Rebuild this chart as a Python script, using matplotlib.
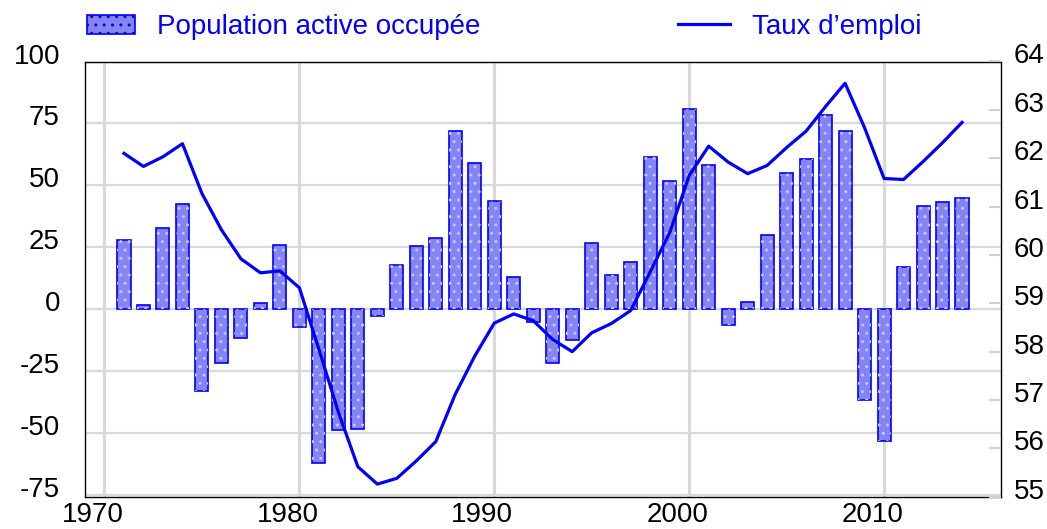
import matplotlib
matplotlib.use("Agg")
import matplotlib.pyplot as plt
from matplotlib.transforms import ScaledTranslation
from matplotlib.lines import Line2D
from matplotlib.patches import Patch

years = list(range(1971, 2015))
population_active_occupee = [
    28, 2, 33, 42.5, -33, -21.6, -11.5, 2.5, 26, -7,
    -62, -48.5, -48, -2.5, 18, 25.5, 29, 72, 59, 43.7,
    13, -5, -21.6, -12.5, 27, 14, 19, 61.4, 51.8, 80.7,
    58.1, -6.4, 2.9, 30.1, 55.2, 60.5, 78.3, 72.1, -36.6, -53,
    17.3, 41.7, 43.2, 44.8,
]
taux_emploi = [
    62.10, 61.83, 62.03, 62.30, 61.27, 60.52, 59.92, 59.63, 59.67, 59.32,
    58.05, 56.75, 55.62, 55.26, 55.38, 55.74, 56.14, 57.12, 57.91, 58.59,
    58.78, 58.64, 58.25, 58.00, 58.39, 58.58, 58.85, 59.65, 60.46, 61.64,
    62.25, 61.92, 61.68, 61.85, 62.22, 62.56, 63.07, 63.55, 62.63, 61.58,
    61.56, 61.93, 62.32, 62.74,
]
left_ticks = [-75, -50, -25, 0, 25, 50, 75, 100]
right_ticks = [55, 56, 57, 58, 59, 60, 61, 62, 63, 64]
x_ticks = [1970, 1980, 1990, 2000, 2010]
label_bars = "Population active occupée"
label_line = "Taux d’emploi"

plt.rcParams['font.family'] = ['Liberation Sans', 'DejaVu Sans']
plt.rcParams['axes.unicode_minus'] = False
FS = 20
BLUE = '#0000ff'
GRID = '#d9d9d9'
FILL = '#8585f2'

W, H = 1047, 529
fig = plt.figure(figsize=(W / 100, H / 100), dpi=100)
ax = fig.add_axes([85 / W, 1 - 496.7 / H, (1001 - 85) / W, (496.7 - 61.5) / H])

ax.bar(years, population_active_occupee, width=0.67, color=FILL,
       edgecolor=BLUE, linewidth=1.2, zorder=2)
ax.bar(years, population_active_occupee, width=0.67, color='none',
       edgecolor='#c4c4ff', hatch='..', linewidth=0, zorder=2.5)

ax.set_xlim(1969.0, 2016.0)
ax.set_ylim(-75.5, 100)
ax.set_xticks(x_ticks)
ax.set_yticks(left_ticks)
ax.set_axisbelow(True)
ax.xaxis.grid(True, color=GRID, linewidth=2.2)
ax.yaxis.grid(True, color=GRID, linewidth=1.6)
ax.tick_params(axis='both', length=0, labelsize=FS, colors='black')
ax.tick_params(axis='y', pad=18)
ax.tick_params(axis='x', pad=4)
for sp in ax.spines.values():
    sp.set_color('black')
    sp.set_linewidth(1.0)

ax2 = ax.twinx()
ax2.plot(years, taux_emploi, color=BLUE, linewidth=2.3, zorder=5)
ax2.set_ylim(55, 64)
ax2.set_yticks(right_ticks)
ax2.tick_params(axis='y', direction='in', length=8.5, width=1.5, color='#d0d0d0',
                labelsize=FS, pad=9)
for sp in ax2.spines.values():
    sp.set_visible(False)

up = ScaledTranslation(0, 8 / 100, fig.dpi_scale_trans)
left = ScaledTranslation(-12 / 100, 0, fig.dpi_scale_trans)
for t in ax.yaxis.get_major_ticks():
    t.label1.set_transform(t.label1.get_transform() + up)
for t in ax2.yaxis.get_major_ticks():
    t.label2.set_transform(t.label2.get_transform() + up)
for t in ax.xaxis.get_major_ticks():
    t.label1.set_transform(t.label1.get_transform() + left)

h1 = Patch(facecolor=FILL, edgecolor=BLUE, hatch='..', linewidth=1.2)
leg1 = fig.legend([h1], [label_bars], loc='center left',
                  bbox_to_anchor=(87 / W, 1 - 27 / H), frameon=False,
                  fontsize=FS, borderpad=0, borderaxespad=0,
                  handlelength=1.72, handleheight=0.68, handletextpad=0.8,
                  labelcolor=BLUE)
h2 = Line2D([], [], color=BLUE, linewidth=2.3)
leg2 = fig.legend([h2], [label_line], loc='center left',
                  bbox_to_anchor=(678 / W, 1 - 27 / H), frameon=False,
                  fontsize=FS, borderpad=0, borderaxespad=0,
                  handlelength=1.87, handletextpad=0.8, labelcolor=BLUE)

fig.savefig('out.png', dpi=100)
